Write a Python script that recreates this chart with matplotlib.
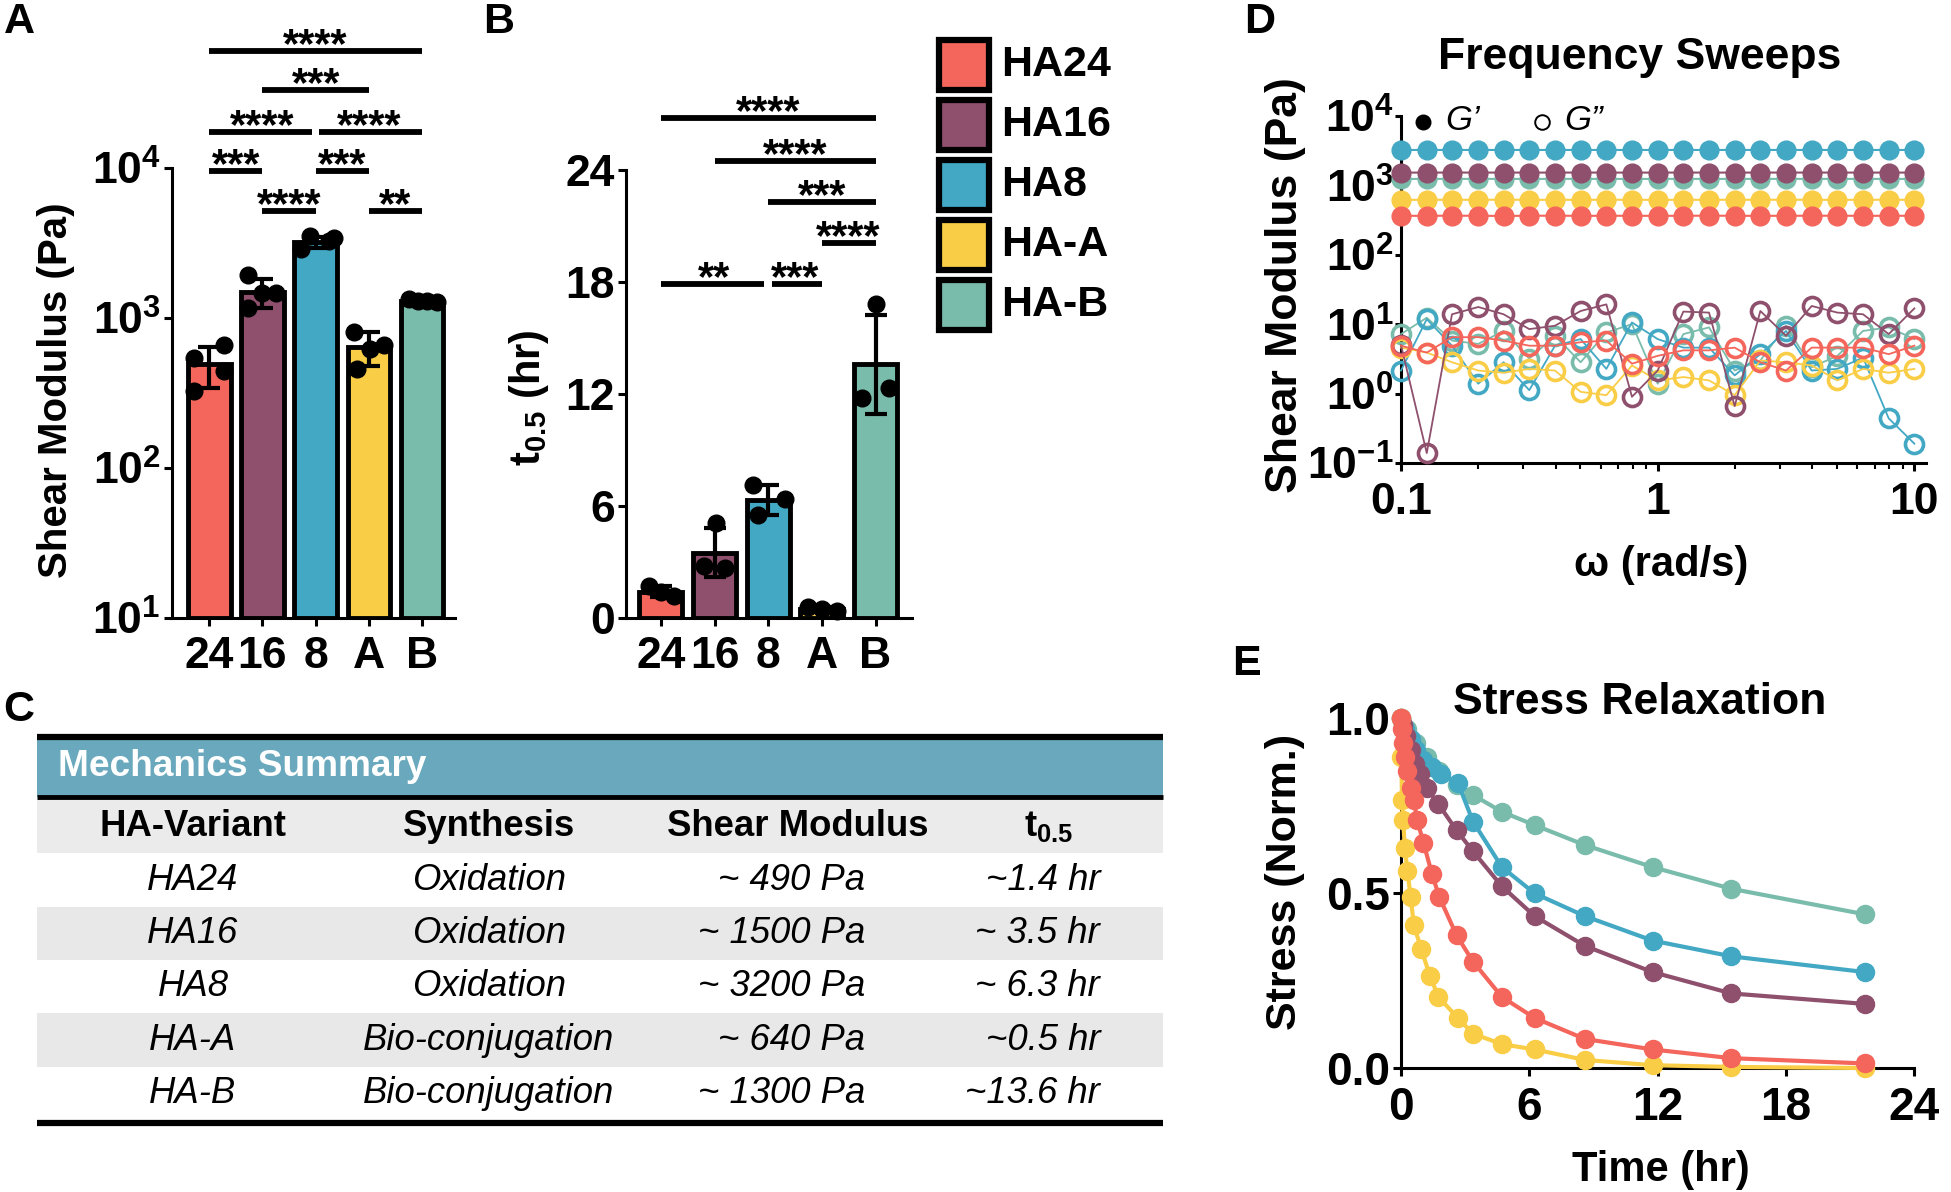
import numpy as np
import matplotlib
matplotlib.use('Agg')
import matplotlib.pyplot as plt
from matplotlib import font_manager as fm
from matplotlib.patches import Rectangle
from matplotlib.ticker import FixedLocator, FixedFormatter, NullLocator, LogLocator, NullFormatter

# ---------------- data ----------------
groups = ['24', '16', '8', 'A', 'B']
variants = ['HA24', 'HA16', 'HA8', 'HA-A', 'HA-B']
colors = ['#F4655B', '#8E506C', '#42A8C4', '#FACD46', '#7ABCAC']

# Panel A: shear modulus (Pa)
modulus_mean = [490, 1500, 3200, 640, 1300]
modulus_sd = [150, 330, 260, 165, 40]
modulus_pts = [[660, 541, 443, 328], [1922, 1473, 1167, 1473], [3510, 3280, 2870, 3390],
               [807, 661, 618, 458], [1330, 1300, 1290, 1280]]
modulus_jitter = [[0.28, -0.28, 0.27, -0.28], [-0.28, 0.25, -0.28, 0.0], [-0.1, 0.25, -0.28, 0.35],
                  [-0.28, 0.28, 0.03, -0.22], [-0.25, -0.08, 0.1, 0.28]]
sigA_pairs = [(0, 4), (1, 3), (0, 2), (2, 4), (0, 1), (2, 3), (1, 2), (3, 4)]
sigA_level = [6.0e4, 3.3e4, 1.75e4, 1.75e4, 9.6e3, 9.6e3, 5.2e3, 5.2e3]
sigA_stars = ['****', '***', '****', '****', '***', '***', '****', '**']

# Panel B: t0.5 (hr)
t05_mean = [1.4, 3.5, 6.3, 0.5, 13.6]
t05_sd = [0.3, 1.3, 0.8, 0.1, 2.65]
t05_pts = [[1.7, 1.4, 1.2], [5.1, 2.8, 2.7], [7.1, 6.4, 5.5], [0.6, 0.5, 0.4], [16.8, 11.8, 12.3]]
t05_jitter = [[-0.22, 0.0, 0.25], [0.03, -0.19, 0.19], [-0.28, 0.32, -0.19], [-0.25, 0.0, 0.28], [0.0, -0.25, 0.25]]
sigB_pairs = [(0, 4), (1, 4), (2, 4), (3, 4), (0, 2), (2, 3)]
sigB_level = [26.8, 24.5, 22.3, 20.1, 17.9, 17.9]
sigB_stars = ['****', '****', '***', '****', '**', '***']

# Panel D: frequency sweeps
omega = [0.1, 0.126, 0.158, 0.2, 0.251, 0.316, 0.398, 0.501, 0.631, 0.794, 1.0,
         1.259, 1.585, 1.995, 2.512, 3.162, 3.981, 5.012, 6.31, 7.943, 10.0]
Gp = {
    'HA24': [365, 364, 366, 365, 363, 365, 366, 364, 365, 365, 364, 365, 366, 365, 364, 365, 365, 366, 364, 365, 365],
    'HA16': [1530, 1528, 1532, 1530, 1531, 1529, 1530, 1532, 1530, 1528, 1530, 1531, 1530, 1529, 1530, 1532, 1530, 1531, 1529, 1530, 1530],
    'HA8':  [3240, 3238, 3242, 3240, 3241, 3239, 3240, 3242, 3240, 3238, 3240, 3241, 3240, 3239, 3240, 3242, 3240, 3241, 3239, 3240, 3240],
    'HA-A': [620, 619, 621, 620, 622, 620, 619, 620, 621, 620, 620, 619, 620, 621, 620, 622, 620, 619, 620, 621, 620],
    'HA-B': [1240, 1238, 1242, 1240, 1241, 1239, 1240, 1242, 1240, 1238, 1240, 1241, 1240, 1239, 1240, 1242, 1240, 1241, 1239, 1240, 1240],
}
Gpp = {
    'HA24': [4.9, 3.9, 6.5, 6.5, 5.8, 4.9, 4.9, 5.5, 5.8, 2.7, 3.5, 4.2, 4.2, 4.6, 2.83, 2.15, 4.6, 4.6, 4.6, 3.7, 4.9],
    'HA16': [5.0, 0.139, 13.9, 17.7, 13.9, 8.5, 9.5, 15.5, 19.3, 0.9, 2.15, 15.2, 14.7, 0.66, 15.5, 6.8, 18.3, 14.7, 13.9, 7.2, 16.9],
    'HA8':  [2.15, 11.8, 4.9, 1.39, 2.83, 1.12, 4.9, 6.1, 2.27, 10.6, 6.1, 4.6, 4.6, 1.83, 3.7, 8.0, 2.15, 2.27, 3.3, 0.44, 0.19],
    'HA-A': [4.6, 3.9, 2.83, 2.15, 2.0, 2.27, 2.15, 1.06, 0.95, 2.54, 1.55, 1.73, 1.55, 0.95, 3.0, 2.83, 2.54, 1.55, 2.27, 2.0, 2.27],
    'HA-B': [7.2, 12.4, 5.8, 5.2, 8.0, 3.2, 6.8, 2.83, 7.6, 10.0, 1.39, 7.2, 9.0, 2.15, 3.0, 9.5, 2.4, 3.5, 8.0, 9.0, 6.1],
}

# Panel E: stress relaxation (normalized)
relax_t = {
    'HA24': [0, 0.05, 0.1, 0.18, 0.3, 0.45, 0.6, 0.75, 1.05, 1.45, 1.79, 2.6, 3.37, 4.72, 6.25, 8.6, 11.77, 15.46, 21.71],
    'HA16': [0, 0.1, 0.25, 0.45, 0.65, 0.9, 1.2, 1.75, 2.6, 3.37, 4.72, 6.25, 8.6, 11.77, 15.46, 21.71],
    'HA8':  [0, 0.2, 0.45, 0.7, 1.05, 1.45, 1.85, 2.66, 3.37, 4.72, 6.25, 8.6, 11.77, 15.46, 21.71],
    'HA-A': [0, 0.02, 0.05, 0.1, 0.18, 0.3, 0.45, 0.6, 0.95, 1.35, 1.75, 2.66, 3.37, 4.72, 6.25, 8.61, 11.77, 15.46, 21.71],
    'HA-B': [0, 0.3, 0.7, 1.2, 1.8, 2.6, 3.37, 4.72, 6.25, 8.6, 11.77, 15.46, 21.71],
}
relax_s = {
    'HA24': [1.0, 0.97, 0.93, 0.89, 0.85, 0.80, 0.765, 0.709, 0.644, 0.554, 0.489, 0.379, 0.304, 0.203, 0.143, 0.083, 0.053, 0.028, 0.013],
    'HA16': [1.0, 0.98, 0.95, 0.91, 0.87, 0.84, 0.80, 0.754, 0.679, 0.619, 0.519, 0.434, 0.349, 0.274, 0.213, 0.183],
    'HA8':  [1.0, 0.97, 0.94, 0.91, 0.88, 0.86, 0.84, 0.815, 0.704, 0.574, 0.499, 0.434, 0.364, 0.319, 0.274],
    'HA-A': [1.0, 0.89, 0.765, 0.709, 0.629, 0.564, 0.489, 0.409, 0.339, 0.264, 0.203, 0.143, 0.098, 0.068, 0.053, 0.023, 0.008, 0.003, 0.0],
    'HA-B': [1.0, 0.97, 0.93, 0.89, 0.85, 0.81, 0.78, 0.732, 0.694, 0.637, 0.574, 0.512, 0.439],
}

# Panel C: table
table_title = 'Mechanics Summary'
table_cols = ['HA-Variant', 'Synthesis', 'Shear Modulus', r'$\mathbf{t_{0.5}}$']
table_synth = ['Oxidation', 'Oxidation', 'Oxidation', 'Bio-conjugation', 'Bio-conjugation']
table_mod = ['~ 490 Pa', '~ 1500 Pa', '~ 3200 Pa', '~ 640 Pa', '~ 1300 Pa']
table_t05 = ['~1.4 hr', '~ 3.5 hr', '~ 6.3 hr', '~0.5 hr', '~13.6 hr']

# ---------------- style ----------------
plt.rcParams['font.family'] = ['Liberation Sans', 'DejaVu Sans']
plt.rcParams['font.weight'] = 'bold'
plt.rcParams['mathtext.fontset'] = 'custom'
plt.rcParams['mathtext.rm'] = 'Liberation Sans'
plt.rcParams['mathtext.bf'] = 'Liberation Sans:bold'
plt.rcParams['mathtext.it'] = 'Liberation Sans:italic'
plt.rcParams['axes.linewidth'] = 2.2

names = {f.name for f in fm.fontManager.ttflist}
if 'Liberation Sans Narrow' in names:
    TFONT = ['Liberation Sans Narrow', 'DejaVu Sans']
    tsc = 1.0
else:
    TFONT = ['Liberation Sans', 'DejaVu Sans']
    tsc = 0.82

W, H = 1951, 1192
fig = plt.figure(figsize=(W / 100, H / 100), dpi=100)


def rect(x0, y0, x1, y1):
    return [x0 / W, 1 - y1 / H, (x1 - x0) / W, (y1 - y0) / H]


ov = fig.add_axes([0, 0, 1, 1])
ov.set_xlim(0, W)
ov.set_ylim(H, 0)
ov.axis('off')
ov.set_zorder(10)


def style(ax, ls=32, xpad=7):
    ax.patch.set_alpha(0)
    for s in ['top', 'right']:
        ax.spines[s].set_visible(False)
    for s in ['left', 'bottom']:
        ax.spines[s].set_linewidth(2.2)
    ax.tick_params(axis='both', which='major', direction='out', length=6, width=2.2,
                   labelsize=ls, pad=2)
    ax.tick_params(axis='x', which='major', pad=xpad)
    for lab in ax.get_xticklabels() + ax.get_yticklabels():
        lab.set_fontweight('bold')


def draw_sig(ax, pairs, levels, stars):
    for k, ((i, j), y, st) in enumerate(zip(pairs, levels, stars)):
        x0, x1 = i, j
        for m, ((i2, j2), y2) in enumerate(zip(pairs, levels)):
            if m != k and y2 == y:
                if j2 == i:
                    x0 = i + 0.07
                if i2 == j:
                    x1 = j - 0.07
        ax.plot([x0, x1], [y, y], color='k', lw=4.2, clip_on=False, solid_capstyle='butt')
        ax.annotate(st, xy=((i + j) / 2, y), xytext=(0, -4.5), textcoords='offset points',
                    ha='center', va='baseline', fontsize=30, fontweight='bold',
                    annotation_clip=False)


x = np.arange(len(groups))

# ---------------- Panel A ----------------
axA = fig.add_axes(rect(172, 168, 455, 618))
axA.set_yscale('log')
axA.bar(x, np.array(modulus_mean) - 10, bottom=10, width=0.8, color=colors,
        edgecolor='k', linewidth=3.5, zorder=2)
for i in range(len(groups)):
    axA.plot(x[i] + np.array(modulus_jitter[i]), modulus_pts[i], 'o', color='k', ms=12, zorder=3,
             clip_on=False)
axA.errorbar(x, modulus_mean, yerr=modulus_sd, fmt='none', ecolor='k', elinewidth=3,
             capsize=8, capthick=3, zorder=4)
axA.set_ylim(10, 1e4)
axA.set_xlim(-0.7, 4.62)
axA.yaxis.set_major_locator(FixedLocator([10, 100, 1000, 10000]))
axA.yaxis.set_major_formatter(FixedFormatter([r'$\mathbf{10^{1}}$', r'$\mathbf{10^{2}}$',
                                              r'$\mathbf{10^{3}}$', r'$\mathbf{10^{4}}$']))
axA.yaxis.set_minor_locator(NullLocator())
axA.set_xticks(x)
axA.set_xticklabels(groups)
style(axA)
draw_sig(axA, sigA_pairs, sigA_level, sigA_stars)

# ---------------- Panel B ----------------
axB = fig.add_axes(rect(626, 170, 912, 618))
axB.bar(x, t05_mean, width=0.8, color=colors, edgecolor='k', linewidth=3.5, zorder=2)
for i in range(len(groups)):
    axB.plot(x[i] + np.array(t05_jitter[i]), t05_pts[i], 'o', color='k', ms=12, zorder=3,
             clip_on=False)
axB.errorbar(x, t05_mean, yerr=t05_sd, fmt='none', ecolor='k', elinewidth=3,
             capsize=8, capthick=3, zorder=4)
axB.set_ylim(0, 24)
axB.set_xlim(-0.65, 4.68)
axB.set_yticks([0, 6, 12, 18, 24])
axB.set_xticks(x)
axB.set_xticklabels(groups)
style(axB)
draw_sig(axB, sigB_pairs, sigB_level, sigB_stars)

# ---------------- Legend (A/B) ----------------
leg_y = [65, 125, 185, 245, 305]
for c, v, yy in zip(colors, variants, leg_y):
    ov.add_patch(Rectangle((939, yy - 25), 50, 50, facecolor=c, edgecolor='k', linewidth=4.5))
    ov.text(1001, yy, v, ha='left', va='center', fontsize=31, fontweight='bold')

# ---------------- Panel D ----------------
axD = fig.add_axes(rect(1401, 116, 1926, 463))
axD.set_xscale('log')
axD.set_yscale('log')
order = ['HA-B', 'HA16', 'HA8', 'HA-A', 'HA24']
cmap = dict(zip(variants, colors))
for v in order:
    axD.plot(omega, Gp[v], '-o', color=cmap[v], ms=13.5, lw=1.5, clip_on=False, zorder=3)
for v in ['HA-B', 'HA8', 'HA-A', 'HA16', 'HA24']:
    axD.plot(omega, Gpp[v], '-o', color=cmap[v], mfc='none', mec=cmap[v], mew=2.6, ms=13,
             lw=1.3, clip_on=False, zorder=3)
axD.set_xlim(0.1, 11.1)
axD.set_ylim(0.1, 1e4)
axD.yaxis.set_major_locator(FixedLocator([0.1, 1, 10, 100, 1000, 10000]))
axD.yaxis.set_major_formatter(FixedFormatter([r'$\mathbf{10^{-1}}$', r'$\mathbf{10^{0}}$',
                                              r'$\mathbf{10^{1}}$', r'$\mathbf{10^{2}}$',
                                              r'$\mathbf{10^{3}}$', r'$\mathbf{10^{4}}$']))
axD.yaxis.set_minor_locator(NullLocator())
axD.xaxis.set_major_locator(FixedLocator([0.1, 1, 10]))
axD.xaxis.set_major_formatter(FixedFormatter(['0.1', '1', '10']))
axD.xaxis.set_minor_locator(LogLocator(base=10, subs=np.arange(2, 10)))
axD.xaxis.set_minor_formatter(NullFormatter())
style(axD, xpad=8)
axD.tick_params(axis='x', which='minor', direction='out', length=4, width=1.5)
axD.tick_params(axis='y', pad=1, length=4)

# ---------------- Panel E ----------------
axE = fig.add_axes(rect(1401, 718, 1914, 1068))
for v in ['HA-B', 'HA8', 'HA16', 'HA-A', 'HA24']:
    axE.plot(relax_t[v], relax_s[v], '-o', color=cmap[v], ms=13, lw=3, clip_on=False, zorder=3)
axE.set_xlim(0, 24)
axE.set_ylim(0, 1)
axE.set_xticks([0, 6, 12, 18, 24])
axE.set_yticks([0, 0.5, 1.0])
axE.set_yticklabels(['0.0', '0.5', '1.0'])
style(axE, ls=33, xpad=7)

# ---------------- labels / titles ----------------
ov.text(56, 390, 'Shear Modulus (Pa)', rotation=90, ha='center', va='center', fontsize=29,
        fontweight='bold')
ov.text(529, 398, r'$\mathbf{t_{0.5}}$ (hr)', rotation=90, ha='center', va='center', fontsize=30,
        fontweight='bold')
ov.text(1285, 285, 'Shear Modulus (Pa)', rotation=90, ha='center', va='center', fontsize=32,
        fontweight='bold')
ov.text(1285, 882, 'Stress (Norm.)', rotation=90, ha='center', va='center', fontsize=31,
        fontweight='bold')
ov.text(1661, 565, 'ω (rad/s)', ha='center', va='center', fontsize=30, fontweight='bold')
ov.text(1661, 1170, 'Time (hr)', ha='center', va='center', fontsize=30, fontweight='bold')
ov.text(1640, 57, 'Frequency Sweeps', ha='center', va='center', fontsize=32, fontweight='bold')
ov.text(1640, 702, 'Stress Relaxation', ha='center', va='center', fontsize=32, fontweight='bold')

# G' / G'' key
ov.plot([1423], [122], 'o', color='k', ms=10.5)
ov.text(1445, 121, 'G’', ha='left', va='center', fontsize=25, fontweight='normal', style='italic')
ov.plot([1542], [122], 'o', mfc='none', mec='k', mew=1.4, ms=10.5)
ov.text(1564, 121, 'G”', ha='left', va='center', fontsize=25, fontweight='normal', style='italic')

# panel letters
for lt, (lx, ly) in {'A': (4, 22), 'B': (483, 22), 'C': (3, 710), 'D': (1244, 22), 'E': (1232, 664)}.items():
    ov.text(lx, ly, lt, ha='left', va='center', fontsize=31, fontweight='bold')

# ---------------- Panel C table ----------------
tx0, tx1 = 37, 1163
ov.add_patch(Rectangle((tx0, 737), tx1 - tx0, 60, facecolor='#6AA9BD', edgecolor='none'))
ov.add_patch(Rectangle((tx0, 799), tx1 - tx0, 54, facecolor='#EBEBEB', edgecolor='none'))
row_edges = [853, 907, 960, 1013, 1067, 1120]
for r in range(5):
    if r % 2 == 1:
        ov.add_patch(Rectangle((tx0, row_edges[r]), tx1 - tx0, row_edges[r + 1] - row_edges[r],
                               facecolor='#E8E8E8', edgecolor='none'))
ov.plot([tx0, tx1], [737, 737], color='k', lw=4.5, solid_capstyle='butt')
ov.plot([tx0, tx1], [797, 797], color='k', lw=3.5, solid_capstyle='butt')
ov.plot([tx0, tx1], [1123, 1123], color='k', lw=4.5, solid_capstyle='butt')

ov.text(58, 767, table_title, ha='left', va='center', fontsize=32.5 * tsc, fontweight='bold',
        color='white', family=TFONT)
col_x = [193, 489, 798, 1049]
for cx, ct in zip(col_x, table_cols):
    ov.text(cx, 826, ct, ha='center', va='center', fontsize=32 * tsc, fontweight='bold', family=TFONT)
for r in range(5):
    cy = (row_edges[r] + row_edges[r + 1]) / 2
    kw = dict(va='center', fontsize=32 * tsc, fontweight='normal', style='italic', family=TFONT)
    ov.text(193, cy, variants[r], ha='center', **kw)
    ov.text(489, cy, table_synth[r], ha='center', **kw)
    ov.text(865, cy, table_mod[r], ha='right', **kw)
    ov.text(1100, cy, table_t05[r], ha='right', **kw)

fig.savefig('out.png', dpi=100)
